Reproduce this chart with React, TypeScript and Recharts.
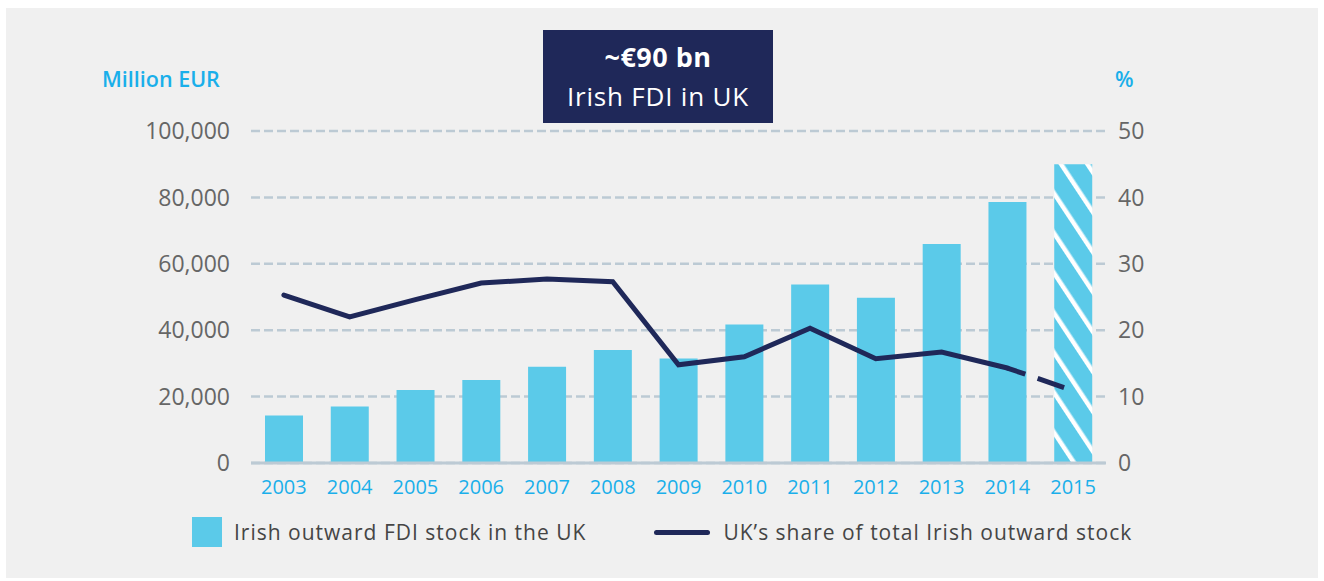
import {Bar, Cell, ComposedChart, CartesianGrid, Line, XAxis, YAxis} from 'recharts';

const years = ['2003', '2004', '2005', '2006', '2007', '2008', '2009', '2010', '2011', '2012', '2013', '2014', '2015'];
// Irish outward FDI stock in the UK, million EUR
const fdiStock = [14300, 17000, 22000, 25000, 29000, 34000, 31500, 41700, 53800, 49800, 66000, 78600, 90000];
// UK's share of total Irish outward stock, %
const ukShare = [25.3, 22.0, 24.6, 27.1, 27.7, 27.3, 14.8, 16.0, 20.3, 15.7, 16.7, 14.3, null];
// last, estimated segment (drawn dashed)
const ukShareEst = [null, null, null, null, null, null, null, null, null, null, null, 14.3, 10.9];

const leftTicks = [0, 20000, 40000, 60000, 80000, 100000];
const rightTicks = [0, 10, 20, 30, 40, 50];

const data = years.map((year, i) => ({
    year,
    stock: fdiStock[i],
    share: ukShare[i],
    shareEst: ukShareEst[i],
}));

const BAR = '#5BCAE9';
const NAVY = '#1F2859';
const CYAN = '#1AAFEA';
const GRID = '#BCCAD4';
const FONT = '"Open Sans", sans-serif';

function ChartLegend() {
    return (
        <div style={{
            position: 'absolute', left: 192, top: 517, display: 'flex', alignItems: 'center',
            fontFamily: FONT, fontSize: 21, letterSpacing: 1, color: '#454545', lineHeight: '30px'
        }}>
            <span style={{width: 30, height: 30, background: BAR, display: 'inline-block', marginRight: 12}}/>
            <span>Irish outward FDI stock in the UK</span>
            <span style={{
                width: 56, height: 5, background: NAVY, borderRadius: 3, display: 'inline-block',
                marginLeft: 68, marginRight: 13
            }}/>
            <span>UK’s share of total Irish outward stock</span>
        </div>
    );
}

export default function App() {
    return (
        <div style={{position: 'fixed', left: 0, top: 0, width: 1324, height: 581, background: '#fff'}}>
            <svg width={0} height={0} style={{position: 'absolute'}}>
                <defs>
                    <pattern id="hatch" patternUnits="userSpaceOnUse" width={22} height={22}
                             patternTransform="rotate(-33.5)">
                        <rect x={0} y={0} width={22} height={22} fill={BAR}/>
                        <rect x={0} y={0} width={4.5} height={22} fill="#fff"/>
                    </pattern>
                </defs>
            </svg>
            <div style={{position: 'absolute', left: 6, top: 8, width: 1312, height: 570, background: '#F0F0F0'}}/>
            <div style={{position: 'absolute', left: 0, top: 0}}>
                <ComposedChart width={1324} height={581} data={data} barSize={38}
                               margin={{top: 131, right: 154, left: 0, bottom: 88}}>
                    <CartesianGrid vertical={false} stroke={GRID} strokeWidth={2.5} strokeDasharray="9 4"
                                   yAxisId="left"/>
                    <XAxis dataKey="year" axisLine={{stroke: GRID, strokeWidth: 3}} tickLine={false}
                           tick={{fill: CYAN, fontSize: 20, fontFamily: FONT}} tickMargin={11} height={30}/>
                    <YAxis yAxisId="left" domain={[0, 100000]} ticks={leftTicks} width={251} axisLine={false}
                           tickLine={false} tickMargin={15} interval={0}
                           tickFormatter={(v: number) => v.toLocaleString('en-US')}
                           tick={{fill: '#666', fontSize: 23, fontFamily: FONT}}/>
                    <YAxis yAxisId="right" orientation="right" domain={[0, 50]} ticks={rightTicks} width={64}
                           axisLine={false} tickLine={false} tickMargin={6} interval={0}
                           tick={{fill: '#666', fontSize: 23, fontFamily: FONT, textAnchor: 'start'}}/>
                    <Bar yAxisId="left" dataKey="stock" fill={BAR} isAnimationActive={false}>
                        {data.map((d, i) => (
                            <Cell key={i} fill={d.year === '2015' ? 'url(#hatch)' : BAR}/>
                        ))}
                    </Bar>
                    <Line yAxisId="right" dataKey="share" stroke={NAVY} strokeWidth={5} dot={false}
                          strokeLinecap="round" isAnimationActive={false} connectNulls={false}/>
                    <Line yAxisId="right" dataKey="shareEst" stroke={NAVY} strokeWidth={5} dot={false}
                          strokeDasharray="19 13 28 999" isAnimationActive={false}/>
                </ComposedChart>
            </div>
            <ChartLegend/>
            <div style={{
                position: 'absolute', left: 102, top: 64, fontFamily: FONT, fontSize: 21.5, fontWeight: 600,
                color: CYAN
            }}>
                Million EUR
            </div>
            <div style={{
                position: 'absolute', left: 1115, top: 64, fontFamily: FONT, fontSize: 21.5, fontWeight: 600,
                color: CYAN
            }}>
                %
            </div>
            <div style={{
                position: 'absolute', left: 543, top: 30, width: 230, height: 93, background: NAVY, color: '#fff',
                fontFamily: FONT, textAlign: 'center'
            }}>
                <div style={{fontSize: 27, fontWeight: 700, letterSpacing: 0.5, marginTop: 9, lineHeight: '36px'}}>~€90 bn</div>
                <div style={{fontSize: 26, letterSpacing: 0.8, marginTop: 3, lineHeight: '36px'}}>Irish FDI in UK</div>
            </div>
        </div>
    );
}
